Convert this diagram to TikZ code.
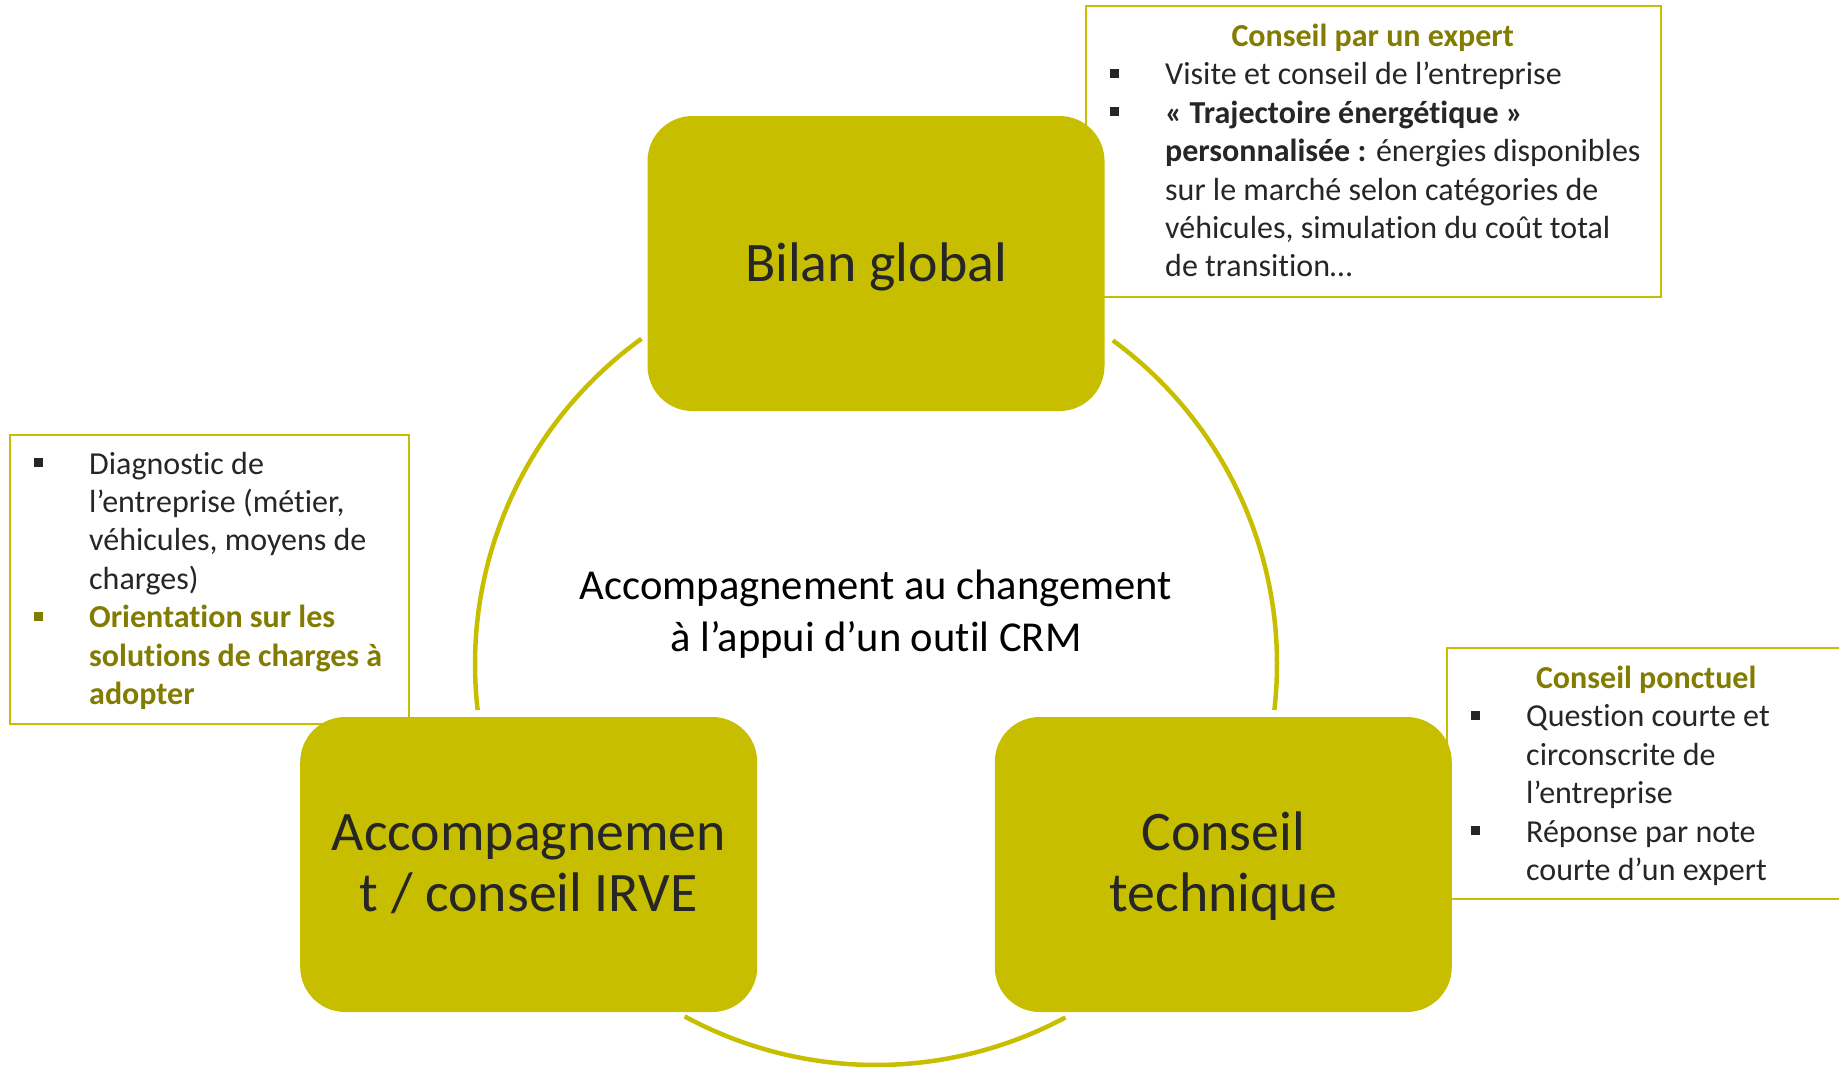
\documentclass[tikz,border=0pt]{standalone}
\usepackage{fontspec}
\setmainfont[Ligatures=NoCommon]{Carlito}
\definecolor{stagefill}{HTML}{C8BE00}
\definecolor{titleolive}{HTML}{827C00}
\definecolor{textgray}{HTML}{262626}
\newcommand\sqb[1][textgray]{\makebox[55pt][l]{\textcolor{#1}{\rule[7pt]{9pt}{9pt}}}}
\newcommand\olv[1]{\textcolor{titleolive}{\bfseries #1}}

\begin{document}
\begin{tikzpicture}
	[x = 1pt, y = -1pt,
	stage/.style = {fill = stagefill, rounded corners = 45pt, minimum width = 457pt, minimum height = 295pt, inner sep = 0pt, align = center, text = textgray, text depth = 13pt, font = \fontsize{55.8}{60.4}\selectfont},
	note/.style = {draw = stagefill, line width = 2pt, fill = white, inner sep = 0pt, anchor = north west},
	notetext/.style = {inner sep = 0pt, anchor = base west, text = textgray, font = \fontsize{32}{38.4}\selectfont},
	ring/.style = {line width = 4.5pt, stagefill},
	hubtext/.style = {align = center, font = \fontsize{42.6}{52}\selectfont}]
	\clip (0,0) rectangle (1839,1066);
	\coordinate (hub) at (876,664);
	\node [note, minimum width = 575pt, minimum height = 291pt] (expert) at (1085,5) {};
	\node [notetext] (experttxt) at ([yshift=-41.5pt]expert.north west) {\begin{tabular}[t]{@{\hspace{25pt}}l@{}l@{}}
		\multicolumn{2}{@{}c@{}}{\makebox[575pt]{\olv{Conseil par un expert}}}\\
		\sqb & Visite et conseil de l’entreprise\\
		\sqb & \textbf{« Trajectoire énergétique »}\\
		& \textbf{personnalisée :} énergies disponibles\\
		& sur le marché selon catégories de\\
		& véhicules, simulation du coût total\\
		& de transition…
	\end{tabular}};
	\node [note, minimum width = 399pt, minimum height = 289pt] (diag) at (9,434) {};
	\node [notetext] (diagtxt) at ([yshift=-40pt]diag.north west) {\begin{tabular}[t]{@{\hspace{25pt}}l@{}l@{}}
		\sqb & Diagnostic de\\
		& l’entreprise (métier,\\
		& véhicules, moyens de\\
		& charges)\\
		\sqb[titleolive] & \olv{Orientation sur les}\\
		& \olv{solutions de charges à}\\
		& \olv{adopter}
	\end{tabular}};
	\node [note, minimum width = 400pt, minimum height = 251pt] (ponctuel) at (1446,647) {};
	\node [notetext] (ponctueltxt) at ([yshift=-41.5pt]ponctuel.north west) {\begin{tabular}[t]{@{\hspace{25pt}}l@{}l@{}}
		\multicolumn{2}{@{}c@{}}{\makebox[400pt]{\olv{Conseil ponctuel}}}\\
		\sqb & Question courte et\\
		& circonscrite de\\
		& l’entreprise\\
		\sqb & Réponse par note\\
		& courte d’un expert
	\end{tabular}};
	\foreach \a/\b in {125.8/186.6, 53.8/-6.6, 241.5/298.2}
		\draw [ring] (hub) ++(\a:401pt) arc [start angle = \a, end angle = \b, radius = 401pt];
	\node [stage, text height = 49.6pt] (bilan) at ([shift={(90:400.5pt)}]hub) {Bilan global};
	\node [stage, text height = 106pt] (irve) at ([shift={(210:401pt)}]hub) {Accompagnemen\\t / conseil IRVE};
	\node [stage, text height = 106pt] (technique) at ([shift={(330:401pt)}]hub) {Conseil\\technique};
	\node [hubtext] (crm) at ([yshift=50pt]hub) {Accompagnement au changement\\à l’appui d’un outil CRM};
\end{tikzpicture}
\end{document}
